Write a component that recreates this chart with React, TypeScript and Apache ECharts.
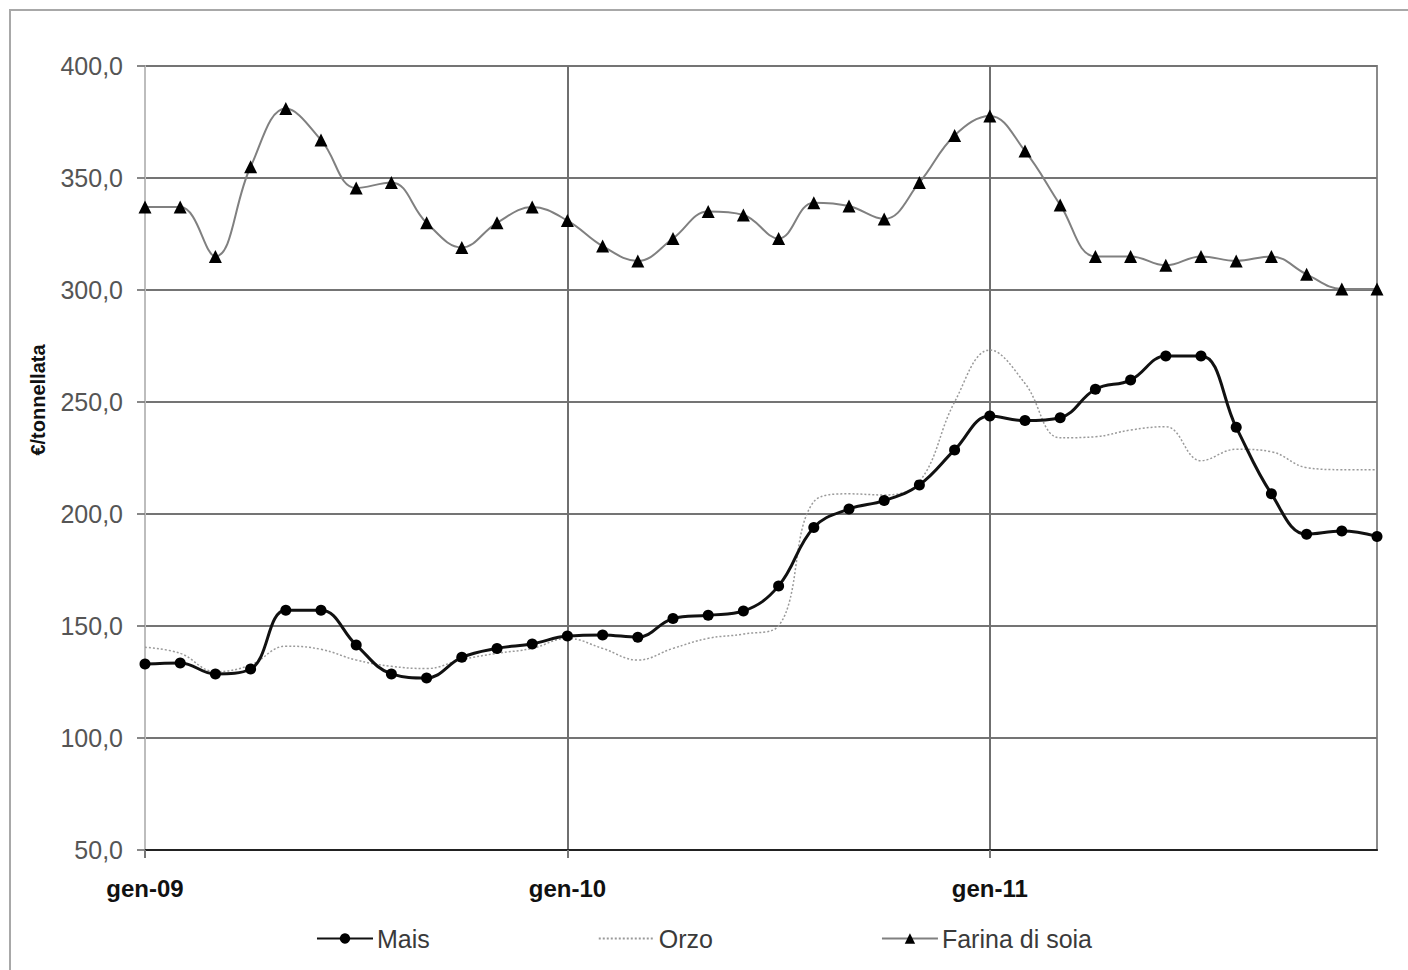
import React, { useEffect, useRef } from "react";
import * as echarts from "echarts";

const months = ["gen", "feb", "mar", "apr", "mag", "giu", "lug", "ago", "set", "ott", "nov", "dic"];
const years = ["09", "10", "11"];
const categories: string[] = years.flatMap((y) => months.map((m) => `${m}-${y}`));

const mais = [
  133, 133.5, 128.6, 130.8, 157, 157, 141.5, 128.6, 126.8, 136, 140, 142,
  145.5, 146, 145, 153.3, 154.8, 156.7, 167.9, 194, 202.2, 206, 213, 228.6,
  243.7, 241.7, 243, 255.7, 259.8, 270.5, 270.5, 238.7, 209, 191, 192.4, 190,
];

const orzo = [
  140.5, 137.8, 129.6, 132.6, 141, 139.6, 134.8, 132, 131, 135, 137.8, 140,
  144.5, 140, 134.8, 140, 144.5, 146.4, 150, 205.5, 209, 208.5, 214.4, 250,
  273.2, 258.3, 234, 234.5, 237.5, 239, 223.8, 228.9, 227.8, 220.7, 219.8, 219.8,
];

const farina = [
  337, 337, 315, 355, 381, 367, 345.5, 348, 330, 319, 330, 337,
  331, 319.6, 313, 323, 335, 333.5, 323, 339, 337.5, 331.7, 348, 369,
  377.7, 362, 338, 315, 315, 311, 315, 313, 315, 307, 300.5, 300.5,
];

const seriesNames = ["Mais", "Orzo", "Farina di soia"];
const yAxisTitle = "€/tonnellata";

export default function App() {
  const ref = useRef<HTMLDivElement>(null);

  useEffect(() => {
    if (!ref.current) return;
    const chart = echarts.init(ref.current, null, { renderer: "svg" });
    const font = "Arial, 'Liberation Sans', sans-serif";
    chart.setOption({
      animation: false,
      backgroundColor: "#ffffff",
      textStyle: { fontFamily: font },
      grid: {
        left: 145,
        top: 66,
        right: 31,
        bottom: 120,
        show: true,
        borderColor: "#8a8a8a",
        borderWidth: 2,
        backgroundColor: "transparent",
      },
      legend: {
        bottom: 14,
        left: "center",
        itemGap: 168,
        itemWidth: 56,
        itemHeight: 13,
        textStyle: { fontSize: 25, color: "#3a3a3a", fontFamily: font, padding: [0, 0, 0, -1] },
        data: [
          { name: seriesNames[0] },
          { name: seriesNames[1], itemStyle: { color: "rgba(0,0,0,0)", borderWidth: 0, opacity: 0 } },
          { name: seriesNames[2] },
        ],
      },
      graphic: [
        {
          type: "rect",
          shape: { x: 10, y: 10, width: 1420, height: 980 },
          style: { fill: "none", stroke: "#a8a8a8", lineWidth: 2 },
          silent: true,
        },
        {
          type: "text",
          x: 38,
          y: 400,
          rotation: Math.PI / 2,
          style: {
            text: yAxisTitle,
            fontSize: 20,
            fontWeight: "bold",
            fill: "#111",
            textAlign: "center",
            textVerticalAlign: "middle",
            fontFamily: font,
          },
        },
      ],
      xAxis: {
        type: "category",
        data: categories,
        boundaryGap: false,
        axisLine: { lineStyle: { color: "#222", width: 2 } },
        axisTick: {
          show: true,
          length: 8,
          interval: (i: number) => i % 12 === 0,
          lineStyle: { color: "#777", width: 2 },
        },
        axisLabel: {
          interval: (i: number) => i % 12 === 0,
          margin: 26,
          fontSize: 24,
          fontWeight: "bold",
          color: "#111",
          fontFamily: font,
        },
        splitLine: {
          show: true,
          interval: (i: number) => i % 12 === 0 && i > 0,
          lineStyle: { color: "#6f6f6f", width: 2 },
        },
      },
      yAxis: {
        type: "value",
        min: 50,
        max: 400,
        interval: 50,
        axisLine: { show: true, lineStyle: { color: "#bdbdbd", width: 2 } },
        axisTick: { show: true, length: 8, lineStyle: { color: "#888", width: 2 } },
        axisLabel: {
          margin: 22,
          fontSize: 25,
          color: "#555",
          fontFamily: font,
          formatter: (v: number) => v.toFixed(1).replace(".", ","),
        },
        splitLine: { show: true, lineStyle: { color: "#747474", width: 2 } },
      },
      series: [
        {
          name: seriesNames[1],
          type: "line",
          data: orzo,
          smooth: 0.4,
          symbol: "none",
          lineStyle: { color: "#9a9a9a", width: 1.5, type: [2, 2] },
          itemStyle: { color: "#9a9a9a" },
          z: 2,
        },
        {
          name: seriesNames[2],
          type: "line",
          data: farina,
          smooth: 0.4,
          symbol: "triangle",
          symbolSize: 13,
          lineStyle: { color: "#808080", width: 2 },
          itemStyle: { color: "#000" },
          z: 3,
        },
        {
          name: seriesNames[0],
          type: "line",
          data: mais,
          smooth: 0.4,
          symbol: "circle",
          symbolSize: 11,
          lineStyle: { color: "#111", width: 3 },
          itemStyle: { color: "#000" },
          z: 4,
        },
      ],
    });
    return () => chart.dispose();
  }, []);

  return (
    <div
      ref={ref}
      style={{ position: "absolute", left: 0, top: 0, width: 1408, height: 970 }}
    />
  );
}
